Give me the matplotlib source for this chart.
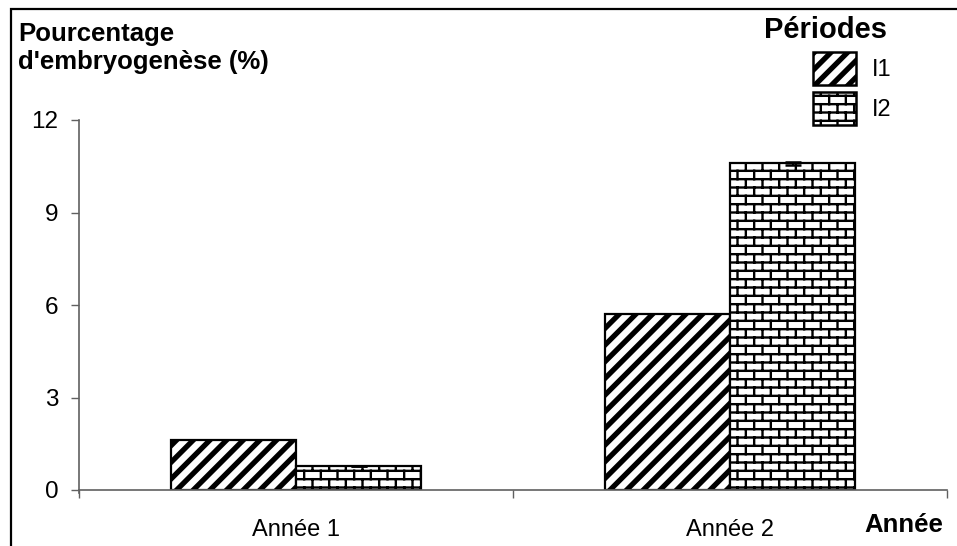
import warnings
import numpy as np
import matplotlib
matplotlib.use("Agg")
import matplotlib.pyplot as plt
import matplotlib.hatch as mhatch
from matplotlib.path import Path
from matplotlib.patches import Rectangle

warnings.filterwarnings("ignore")

# data
annees = ["Année 1", "Année 2"]
periodes = ["I1", "I2"]
i1 = [1.62, 5.71]
i2 = [0.77, 10.60]
err_i2 = [0.0, 0.05]
yticks = [0, 3, 6, 9, 12]


class BrickHatch(mhatch.HatchPatternBase):
    """Horizontal brick fill, selected with 'b' in the hatch string."""
    rows = 12
    cols = 6

    def __init__(self, hatch, density):
        self.segs = []
        if 'b' in hatch:
            n, m = self.rows, self.cols
            for r in range(n):
                y0 = (r + 0.5) / n
                self.segs.append(((0.0, y0), (1.0, y0)))
                for c in range(m):
                    x = (c + 0.25 + 0.5 * (r % 2)) / m
                    self.segs.append(((x, y0), (x, y0 + 1.0 / n)))
                    if r == n - 1:
                        self.segs.append(((x, 0.0), (x, 0.5 / n)))
        self.num_vertices = 2 * len(self.segs)

    def set_vertices_and_codes(self, vertices, codes):
        vertices[:] = np.array(self.segs, dtype=float).reshape(-1, 2)
        codes[0::2] = Path.MOVETO
        codes[1::2] = Path.LINETO


mhatch._hatch_types.append(BrickHatch)

plt.rcParams['font.family'] = ['Liberation Sans', 'DejaVu Sans']
plt.rcParams['hatch.color'] = 'black'

HATCH_LW = {'//': 3.8, 'b': 1.7}

W, H = 957, 546
fig = plt.figure(figsize=(W / 100, H / 100), dpi=100)
ax = fig.add_axes([79 / W, 1 - 490 / H, (947 - 79) / W, (490 - 120) / H])

x = np.arange(len(annees))
w = 0.289
b1 = ax.bar(x - w / 2, i1, w, color='white', edgecolor='black',
            linewidth=1.6, hatch='//', label=periodes[0])
b2 = ax.bar(x + w / 2, i2, w, color='white', edgecolor='black',
            linewidth=1.6, hatch='b', label=periodes[1])
for bars in (b1, b2):
    for p in bars:
        p.set_hatch_linewidth(HATCH_LW[p.get_hatch()])
ax.errorbar(x + w / 2, i2, yerr=err_i2, fmt='none', ecolor='black',
            elinewidth=1.5, capsize=5.5, capthick=1.8)

ax.set_xlim(-0.5, 1.5)
ax.set_ylim(0, 12)
ax.set_yticks(yticks)
ax.set_xticks([-0.5, 0.5, 1.5])
ax.set_xticklabels([])
ax.set_xticks(x, annees, minor=True)
ax.tick_params(axis='x', which='minor', length=0, pad=21, labelsize=17)
ax.tick_params(axis='x', which='major', length=6, width=1, color='#606060',
               direction='out')
ax.tick_params(axis='y', length=6, width=1, color='#606060', pad=9,
               labelsize=17.5)
for s in ['top', 'right']:
    ax.spines[s].set_visible(False)
for s in ['left', 'bottom']:
    ax.spines[s].set_color('#606060')
    ax.spines[s].set_linewidth(1.2)
ax.spines['left'].set_bounds(-0.09, 12)

fig.text(18 / W, 1 - 22 / H, "Pourcentage\nd'embryogenèse (%)",
         ha='left', va='top', fontsize=18.5, fontweight='bold',
         linespacing=1.2)
fig.text(943 / W, 1 - 525 / H, "Année", ha='right', va='center',
         fontsize=18.5, fontweight='bold')

fig.text(826 / W, 1 - 30 / H, "Périodes", ha='center', va='center',
         fontsize=21, fontweight='bold')
leg = fig.legend(handles=[b1, b2], labels=periodes, loc='upper left',
                 bbox_to_anchor=(813 / W, 1 - 52 / H), frameon=False,
                 fontsize=17, handlelength=1.82, handleheight=1.75,
                 handletextpad=0.68, labelspacing=0.33, borderpad=0,
                 borderaxespad=0)
for h in leg.legend_handles:
    h.set_hatch_linewidth(HATCH_LW[h.get_hatch()])
    h.set_linewidth(1.8)

# outer frame of the chart area
fig.add_artist(Rectangle((11 / W, -0.2), 1.5, 1.2 - 9 / H, fill=False,
                         edgecolor='black', linewidth=1.6,
                         transform=fig.transFigure))

fig.savefig("out.png", dpi=100)
